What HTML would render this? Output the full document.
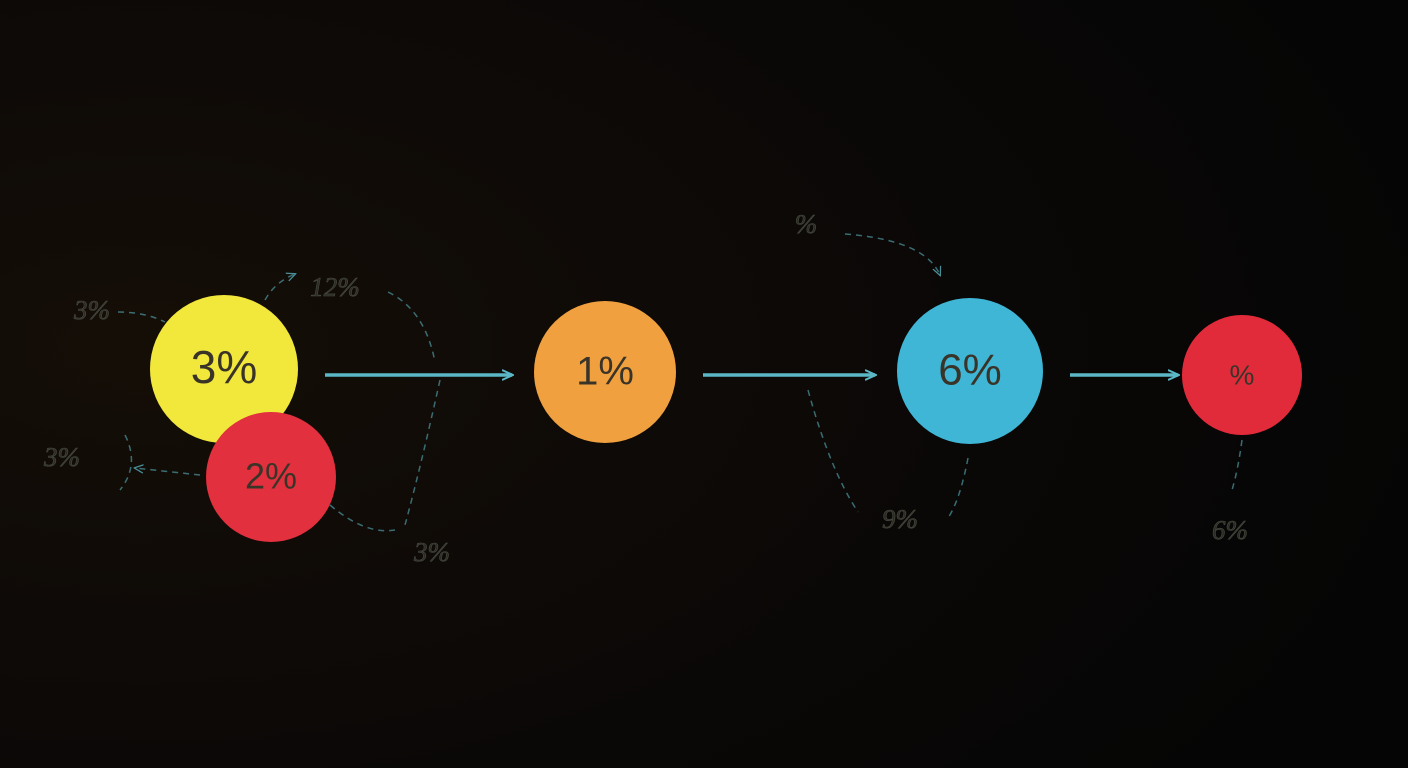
<!DOCTYPE html>
<html><head><meta charset="utf-8"><style>
html,body{margin:0;padding:0;width:1408px;height:768px;overflow:hidden;background:#070605}
svg{display:block}
</style></head><body>
<svg id="chart" width="1408" height="768" viewBox="0 0 1408 768" xmlns="http://www.w3.org/2000/svg">
<defs>
<radialGradient id="bg" cx="0.1" cy="0.45" r="0.95">
<stop offset="0" stop-color="#150e07"/><stop offset="0.5" stop-color="#0c0907"/><stop offset="1" stop-color="#050505"/>
</radialGradient>
<marker id="ah" viewBox="0 0 12 12" refX="10" refY="6" markerWidth="12" markerHeight="12" markerUnits="userSpaceOnUse" orient="auto">
<path d="M0,1 L11,6 L0,11" fill="none" stroke="#5bb7c6" stroke-width="2"/></marker>
<marker id="ahs" viewBox="0 0 12 12" refX="10" refY="6" markerWidth="10" markerHeight="10" markerUnits="userSpaceOnUse" orient="auto">
<path d="M0,1 L11,6 L0,11" fill="none" stroke="#4a8f98" stroke-width="1.5"/></marker>
</defs>
<rect width="1408" height="768" fill="url(#bg)"/>
<g id="faint"></g>
<g id="arrows"></g>
<g id="nodes"></g>
</svg>
<script>
const nodeLabels=["3%","2%","1%","6%","%"];
const nodeColors=["#f2e83c","#e2303e","#f0a03e","#3fb6d6","#e12b3b"];
const nodeCx=[224,271,605,970,1242];
const nodeCy=[369,477,372,371,375];
const nodeR=[74,65,71,73,60];
const nodeFont=[46,36,40,44,28];
const sideLabels=["3%","12%","3%","3%","%","9%","6%"];
const sideX=[92,335,62,432,806,900,1230];
const sideY=[313,290,460,555,227,522,533];
const NS="http://www.w3.org/2000/svg";
function mk(t,a,p){const e=document.createElementNS(NS,t);for(const k in a)e.setAttribute(k,a[k]);p.appendChild(e);return e;}
const faint=document.getElementById('faint'),arrows=document.getElementById('arrows'),nodes=document.getElementById('nodes');
const dashes=["M118,312 Q145,312 165,322","M265,300 Q275,282 295,274","M388,292 Q425,310 435,362","M440,380 Q420,470 405,525","M200,475 L135,468","M125,435 Q140,465 120,490","M330,505 Q365,535 395,530","M845,234 Q925,240 940,275","M808,390 Q830,470 858,512","M968,458 Q960,500 948,518","M1242,440 Q1238,470 1232,490"];
dashes.forEach((d,i)=>{const p=mk('path',{d:d,fill:'none',stroke:'#4a8f98','stroke-width':1.5,'stroke-dasharray':'6 5','stroke-opacity':0.75},faint);


if(i==1||i==4||i==7)p.setAttribute('marker-end','url(#ahs)');});
sideLabels.forEach((s,i)=>{const t=mk('text',{x:sideX[i],y:sideY[i],'text-anchor':'middle','dominant-baseline':'middle','font-family':'Liberation Serif, serif','font-style':'italic','font-size':27,fill:'#2f2f28','fill-opacity':0.9,stroke:'#4a4d42','stroke-width':0.6},faint);t.textContent=s;

});
[[0,2],[2,3],[3,4]].forEach(([a,b])=>{const x1=nodeCx[a]+nodeR[a]+27,x2=nodeCx[b]-nodeR[b]-(b==4?4:22);
const l=mk('line',{x1:x1,y1:375,x2:x2,y2:375,stroke:'#5bb7c6','stroke-width':3.5,'marker-end':'url(#ah)'},arrows);

});
nodeLabels.forEach((s,i)=>{const g=mk('g',{},nodes);


mk('circle',{cx:nodeCx[i],cy:nodeCy[i],r:nodeR[i],fill:nodeColors[i]},g);
const t=mk('text',{x:nodeCx[i],y:nodeCy[i]+2,'text-anchor':'middle','dominant-baseline':'middle','font-family':'Liberation Sans, sans-serif','font-size':nodeFont[i],fill:'#3a3428'},g);t.textContent=s;

});
</script>
</body></html>
